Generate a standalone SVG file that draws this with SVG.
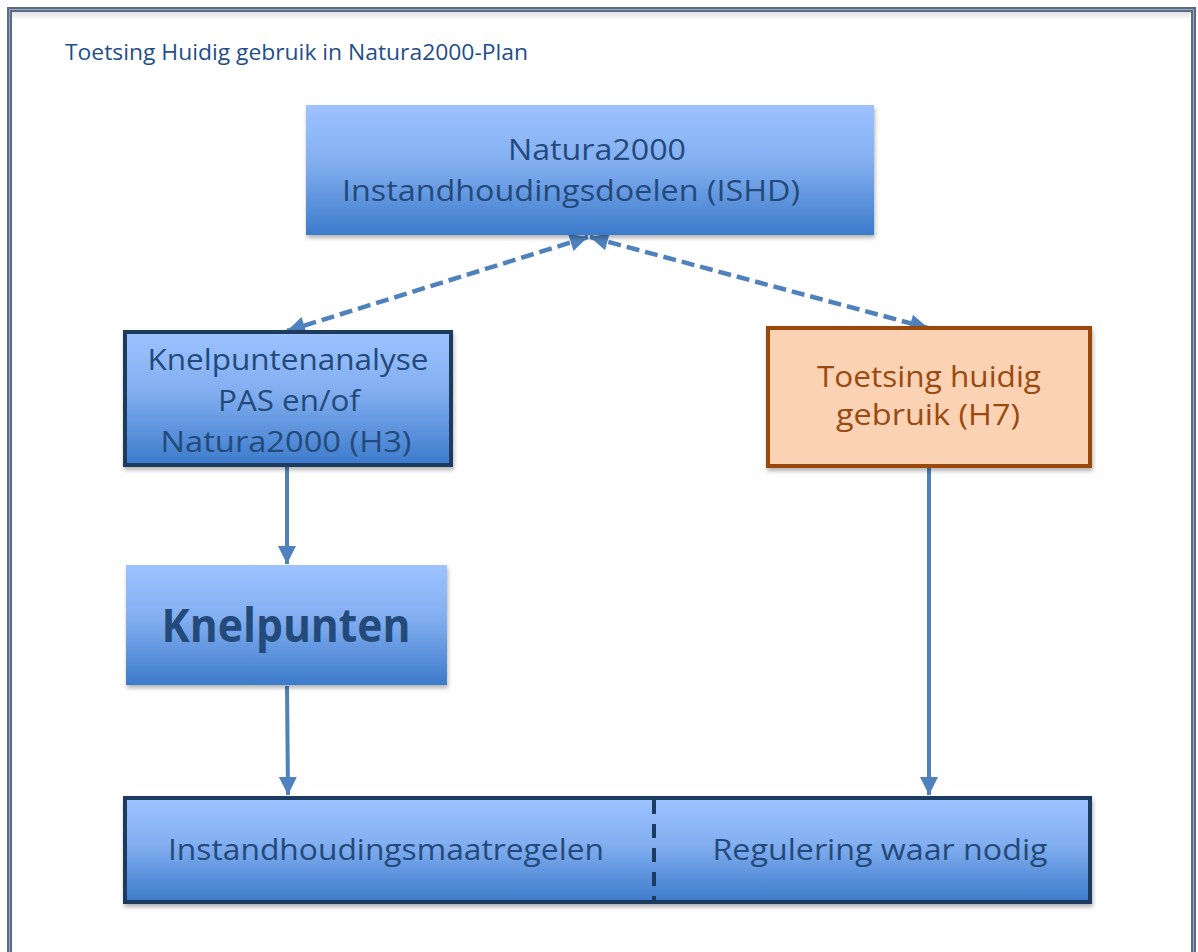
<svg xmlns="http://www.w3.org/2000/svg" width="1198" height="952" viewBox="0 0 1198 952">
<style>
.t{font-family:"Open Sans","Liberation Sans",sans-serif;font-size:30px;fill:#234a7a;text-anchor:middle}
.o{fill:#9a4a10}
.title{font-family:"Open Sans","Liberation Sans",sans-serif;font-size:22px;fill:#1f4e8c}
.b{font-weight:bold;font-size:46px}
.conn{stroke:#4f81bd;stroke-width:4;fill:none}
.dash{stroke-dasharray:13 6;stroke-width:4.5}
</style>
<defs>
<linearGradient id="bg" x1="0" y1="0" x2="0" y2="1">
<stop offset="0" stop-color="#9dc3ff"/>
<stop offset="0.45" stop-color="#82aef0"/>
<stop offset="1" stop-color="#3c7bcb"/>
</linearGradient>
<linearGradient id="frameShade" x1="0" y1="0" x2="0" y2="1">
<stop offset="0" stop-color="#c8ccd2"/>
<stop offset="1" stop-color="#ffffff"/>
</linearGradient>
<filter id="sh" x="-5%" y="-5%" width="110%" height="120%">
<feDropShadow dx="1" dy="3" stdDeviation="2" flood-color="#000" flood-opacity="0.3"/>
</filter>
<marker id="ah" markerUnits="userSpaceOnUse" markerWidth="24" markerHeight="24" viewBox="0 0 24 24" refX="22" refY="12" orient="auto-start-reverse">
<path d="M4,3 L22,12 L4,21 Z" fill="#4f81bd"/>
</marker>
</defs>
<rect x="0" y="0" width="1198" height="952" fill="#ffffff"/>
<rect x="12" y="12" width="1178" height="8" fill="url(#frameShade)" opacity="0.6"/>
<g id="frame">
<rect x="9.5" y="9.5" width="1184" height="970" fill="none" stroke="#5b6b85" stroke-width="5"/>
<rect x="9.5" y="9.5" width="1184" height="970" fill="none" stroke="#9aa8bc" stroke-width="1"/>
</g>
<text class="title" x="65" y="60" textLength="463" lengthAdjust="spacingAndGlyphs">Toetsing Huidig gebruik in Natura2000-Plan</text>

<g id="connectors">
<line class="conn dash" x1="588" y1="237" x2="287" y2="331" marker-start="url(#ah)" marker-end="url(#ah)"/>
<line class="conn dash" x1="590" y1="237" x2="928" y2="328" marker-start="url(#ah)" marker-end="url(#ah)"/>
<line class="conn" x1="287" y1="466" x2="287" y2="564" marker-end="url(#ah)"/>
<line class="conn" x1="287" y1="686" x2="288" y2="795" marker-end="url(#ah)"/>
<line class="conn" x1="929" y1="467" x2="929" y2="795" marker-end="url(#ah)"/>
</g>

<g id="node-isdh">
<rect x="306" y="105" width="568" height="130" fill="url(#bg)" filter="url(#sh)"/>
<text class="t" x="597" y="160" textLength="178" lengthAdjust="spacingAndGlyphs">Natura2000</text>
<text class="t" x="571" y="201" textLength="458" lengthAdjust="spacingAndGlyphs">Instandhoudingsdoelen (ISHD)</text>
</g>

<g id="node-analyse">
<rect x="125" y="332" width="326" height="133" fill="url(#bg)" stroke="#1f3a5f" stroke-width="4" filter="url(#sh)"/>
<text class="t" x="288" y="370" textLength="281" lengthAdjust="spacingAndGlyphs">Knelpuntenanalyse</text>
<text class="t" x="289" y="411" textLength="142" lengthAdjust="spacingAndGlyphs">PAS en/of</text>
<text class="t" x="286" y="452" textLength="251" lengthAdjust="spacingAndGlyphs">Natura2000 (H3)</text>
</g>

<g id="node-toetsing">
<rect x="768" y="328" width="322" height="138" fill="#fbd3b4" stroke="#9a4a10" stroke-width="4" filter="url(#sh)"/>
<text class="t o" x="929" y="387" textLength="224" lengthAdjust="spacingAndGlyphs">Toetsing huidig</text>
<text class="t o" x="928" y="425" textLength="184" lengthAdjust="spacingAndGlyphs">gebruik (H7)</text>
</g>

<g id="node-knelpunten">
<rect x="126" y="565" width="321" height="120" fill="url(#bg)" filter="url(#sh)"/>
<text class="t b" x="286" y="642" textLength="249" lengthAdjust="spacingAndGlyphs">Knelpunten</text>
</g>

<g id="node-maatregelen">
<rect x="125" y="798" width="965" height="104" fill="url(#bg)" stroke="#1f3a5f" stroke-width="4" filter="url(#sh)"/>
<line x1="654" y1="800" x2="654" y2="902" stroke="#1f3a5f" stroke-width="4" stroke-dasharray="14 10"/>
<text class="t" x="386" y="860" textLength="436" lengthAdjust="spacingAndGlyphs">Instandhoudingsmaatregelen</text>
<text class="t" x="880" y="860" textLength="335" lengthAdjust="spacingAndGlyphs">Regulering waar nodig</text>
</g>
</svg>
